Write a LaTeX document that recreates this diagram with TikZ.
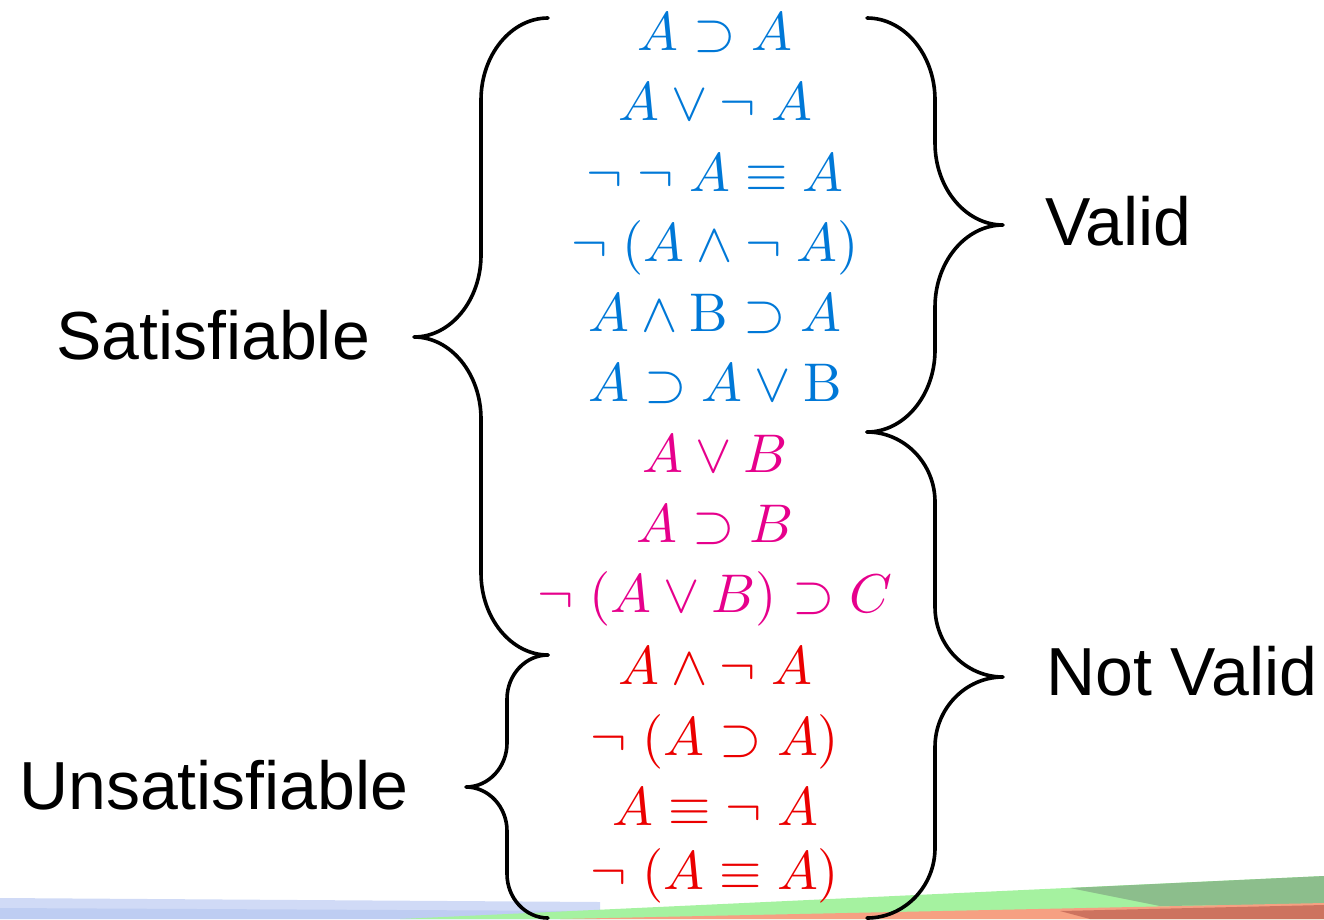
\documentclass[tikz,border=0pt]{standalone}
\usepackage[no-math]{fontspec}
\setmainfont{Liberation Sans}
\usetikzlibrary{calc}

\definecolor{fblue}{RGB}{0,120,215}
\definecolor{fmagenta}{RGB}{230,0,140}
\definecolor{fred}{RGB}{235,0,0}
\definecolor{bandblue}{RGB}{208,218,246}
\definecolor{bandblue2}{RGB}{190,205,242}
\definecolor{bandgreen}{RGB}{165,242,160}
\definecolor{banddkgreen}{RGB}{140,190,140}
\definecolor{bandsalmon}{RGB}{246,160,130}
\definecolor{banddkred}{RGB}{205,115,95}

% curly brace: #1 tip x, #2 top y, #3 middle y, #4 bottom y,
% #5 signed half width (negative points left), #6 height of the curved parts
\newcommand\drawcurly[6]{%
  \draw[bracestroke] (#1,#2)
    .. controls +({0.55*(#5)},0) and +(0,{-0.55*(#6)}) .. ({#1+(#5)},{#2+(#6)})
    -- ({#1+(#5)},{#3-(#6)})
    .. controls +(0,{0.55*(#6)}) and +({-0.55*(#5)},0) .. ({#1+2*(#5)},#3)
    .. controls +({-0.55*(#5)},0) and +(0,{-0.55*(#6)}) .. ({#1+(#5)},{#3+(#6)})
    -- ({#1+(#5)},{#4-(#6)})
    .. controls +(0,{0.55*(#6)}) and +({0.55*(#5)},0) .. (#1,#4);}

\tikzset{
  bracestroke/.style={draw=black, line width=3.6pt, line cap=round, line join=round},
  formula/.style={anchor=base, inner sep=0pt, scale=5.45},
  category/.style={anchor=base west, inner sep=0pt, font=\fontsize{68}{76}\selectfont},
}

\begin{document}
\begin{tikzpicture}[x=1pt,y=-1pt]
\useasboundingbox (0,0) rectangle (1324,919);

% decorative band along the bottom edge
\fill[bandblue] (0,898) -- (600,902) -- (600,919) -- (0,919) -- cycle;
\fill[bandblue2] (0,908) -- (600,911) -- (600,919) -- (0,919) -- cycle;
\fill[bandgreen] (400,919) -- (1324,876) -- (1324,919) -- cycle;
\fill[banddkgreen] (1070,888) -- (1324,876) -- (1324,904) -- (1160,906) -- cycle;
\fill[bandsalmon] (560,919) -- (1324,903) -- (1324,919) -- cycle;
\fill[banddkred] (1060,911) -- (1324,905) -- (1324,919) -- (1090,919) -- cycle;

% braces
\drawcurly{548}{18}{337}{655}{-67}{82}
\drawcurly{548}{655}{787}{918}{-41}{44}
\drawcurly{867}{18}{225}{432}{68}{82}
\drawcurly{867}{432}{677}{918}{68}{70}

% category labels
\node[category] (sat)   at (56,359)   {Satisfiable};
\node[category] (unsat) at (19,809)   {Unsatisfiable};
\node[category] (valid) at (1045,245) {Valid};
\node[category] (nval)  at (1046,695) {Not Valid};

% valid formulas
\node[formula, text=fblue] (f1) at (715,50)  {$A \supset A$};
\node[formula, text=fblue] (f2) at (715,120) {$A \lor \lnot\; A$};
\node[formula, text=fblue] (f3) at (715,191) {$\lnot\;\lnot\; A \equiv A$};
\node[formula, text=fblue] (f4) at (715,261) {$\lnot\;(A \land \lnot\; A)$};
\node[formula, text=fblue] (f5) at (715,331) {$A \land \mathrm{B} \supset A$};
\node[formula, text=fblue] (f6) at (715,401) {$A \supset A \lor \mathrm{B}$};
% satisfiable but not valid
\node[formula, text=fmagenta] (f7) at (715,472) {$A \lor B$};
\node[formula, text=fmagenta] (f8) at (715,542) {$A \supset B$};
\node[formula, text=fmagenta] (f9) at (715,612) {$\lnot\;(A \lor B) \supset C$};
% unsatisfiable
\node[formula, text=fred] (f10) at (715,684) {$A \land \lnot\; A$};
\node[formula, text=fred] (f11) at (715,755) {$\lnot\;(A \supset A)$};
\node[formula, text=fred] (f12) at (715,825) {$A \equiv \lnot\; A$};
\node[formula, text=fred] (f13) at (715,889) {$\lnot\;(A \equiv A)$};
\end{tikzpicture}
\end{document}
